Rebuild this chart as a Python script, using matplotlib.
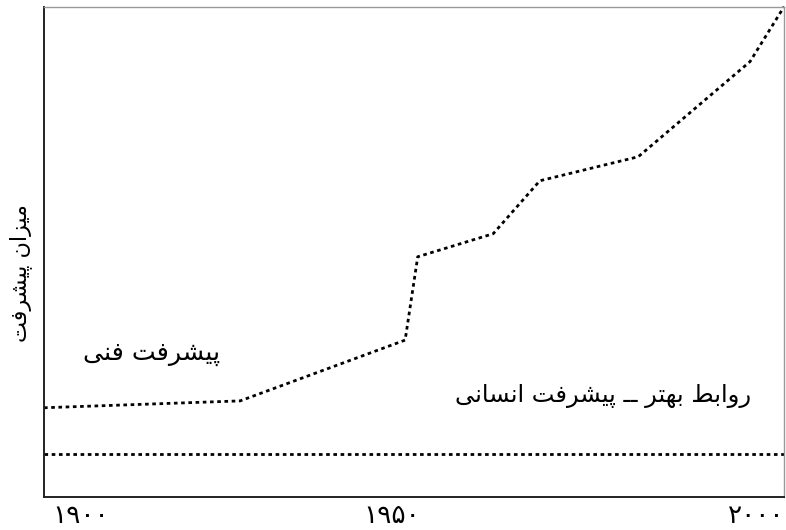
import matplotlib
matplotlib.use("Agg")
import matplotlib.pyplot as plt

# ---------------- data ----------------
tech_years = [1900, 1926.5, 1948.8, 1950.5, 1960.7, 1967.0, 1980.3, 1995.4, 2000.0]
tech_level = [18.2, 19.6, 32.0, 49.0, 53.7, 64.5, 69.4, 88.8, 100.0]
human_years = [1900, 2000]
human_level = [8.8, 8.8]
tick_labels = ["۱۹۰۰", "۱۹۵۰", "۲۰۰۰"]
ylabel_text = "میزان پیشرفت"
tech_label = "پیشرفت فنی"
human_label = "روابط بهتر ــ پیشرفت انسانی"

# ------------- minimal Arabic/Persian shaping -------------
FORMS = {  # isolated, final, initial, medial
    "\u0627": ("\uFE8D", "\uFE8E", None, None),
    "\u0628": ("\uFE8F", "\uFE90", "\uFE91", "\uFE92"),
    "\u062A": ("\uFE95", "\uFE96", "\uFE97", "\uFE98"),
    "\u0631": ("\uFEAD", "\uFEAE", None, None),
    "\u0632": ("\uFEAF", "\uFEB0", None, None),
    "\u0633": ("\uFEB1", "\uFEB2", "\uFEB3", "\uFEB4"),
    "\u0634": ("\uFEB5", "\uFEB6", "\uFEB7", "\uFEB8"),
    "\u0637": ("\uFEC1", "\uFEC2", "\uFEC3", "\uFEC4"),
    "\u0641": ("\uFED1", "\uFED2", "\uFED3", "\uFED4"),
    "\u0645": ("\uFEE1", "\uFEE2", "\uFEE3", "\uFEE4"),
    "\u0646": ("\uFEE5", "\uFEE6", "\uFEE7", "\uFEE8"),
    "\u0647": ("\uFEE9", "\uFEEA", "\uFEEB", "\uFEEC"),
    "\u0648": ("\uFEED", "\uFEEE", None, None),
    "\u06CC": ("\uFBFC", "\uFBFD", "\uFBFE", "\uFBFF"),
    "\u067E": ("\uFB56", "\uFB57", "\uFB58", "\uFB59"),
}
TATWEEL = "\u0640"


def dual(c):
    return c == TATWEEL or (c in FORMS and FORMS[c][2] is not None)


def joining(c):
    return c == TATWEEL or c in FORMS


def shape(text):
    out = []
    for i, c in enumerate(text):
        if c not in FORMS:
            out.append(c)
            continue
        prev = text[i - 1] if i > 0 else ""
        nxt = text[i + 1] if i + 1 < len(text) else ""
        cp = bool(prev) and dual(prev)
        cn = dual(c) and bool(nxt) and joining(nxt)
        iso, fin, ini, med = FORMS[c]
        if cp and cn:
            out.append(med)
        elif cp:
            out.append(fin)
        elif cn:
            out.append(ini)
        else:
            out.append(iso)
    return "".join(out)[::-1]


plt.rcParams["font.family"] = ["DejaVu Sans"]

fig = plt.figure(figsize=(7.86, 5.30), dpi=100)
ax = fig.add_axes([0.056, 0.0623, 0.9415, 0.925])

ls = (0, (1.3, 1.3))
ax.plot(tech_years, tech_level, color="black", lw=2.0, linestyle=ls,
        dash_capstyle="butt", clip_on=False)
ax.plot(human_years, human_level, color="black", lw=2.0, linestyle=ls,
        dash_capstyle="butt", clip_on=False)

ax.set_xlim(1900, 2000)
ax.set_ylim(0, 100)

tick_pos = [1904.9, 1947.0, 1996.2]
ax.set_xticks(tick_pos)
ax.set_xticklabels(tick_labels, fontsize=19)
ax.set_yticks([])
ax.tick_params(axis="x", length=0, pad=4)

for s in ["left", "bottom"]:
    ax.spines[s].set_color("#222222")
    ax.spines[s].set_linewidth(1.4)
for s in ["top", "right"]:
    ax.spines[s].set_color("#999999")
    ax.spines[s].set_linewidth(1.0)

ax.set_ylabel(shape(ylabel_text), fontsize=16)
ax.yaxis.label.set_va("center")
ax.yaxis.set_label_coords(-0.032, 0.457)

ax.text(1914.6, 29.2, shape(tech_label), fontsize=18.2, ha="center", va="center")
ax.text(1975.5, 20.6, shape(human_label), fontsize=17.4, ha="center", va="center")

fig.savefig("out.png", dpi=100)
